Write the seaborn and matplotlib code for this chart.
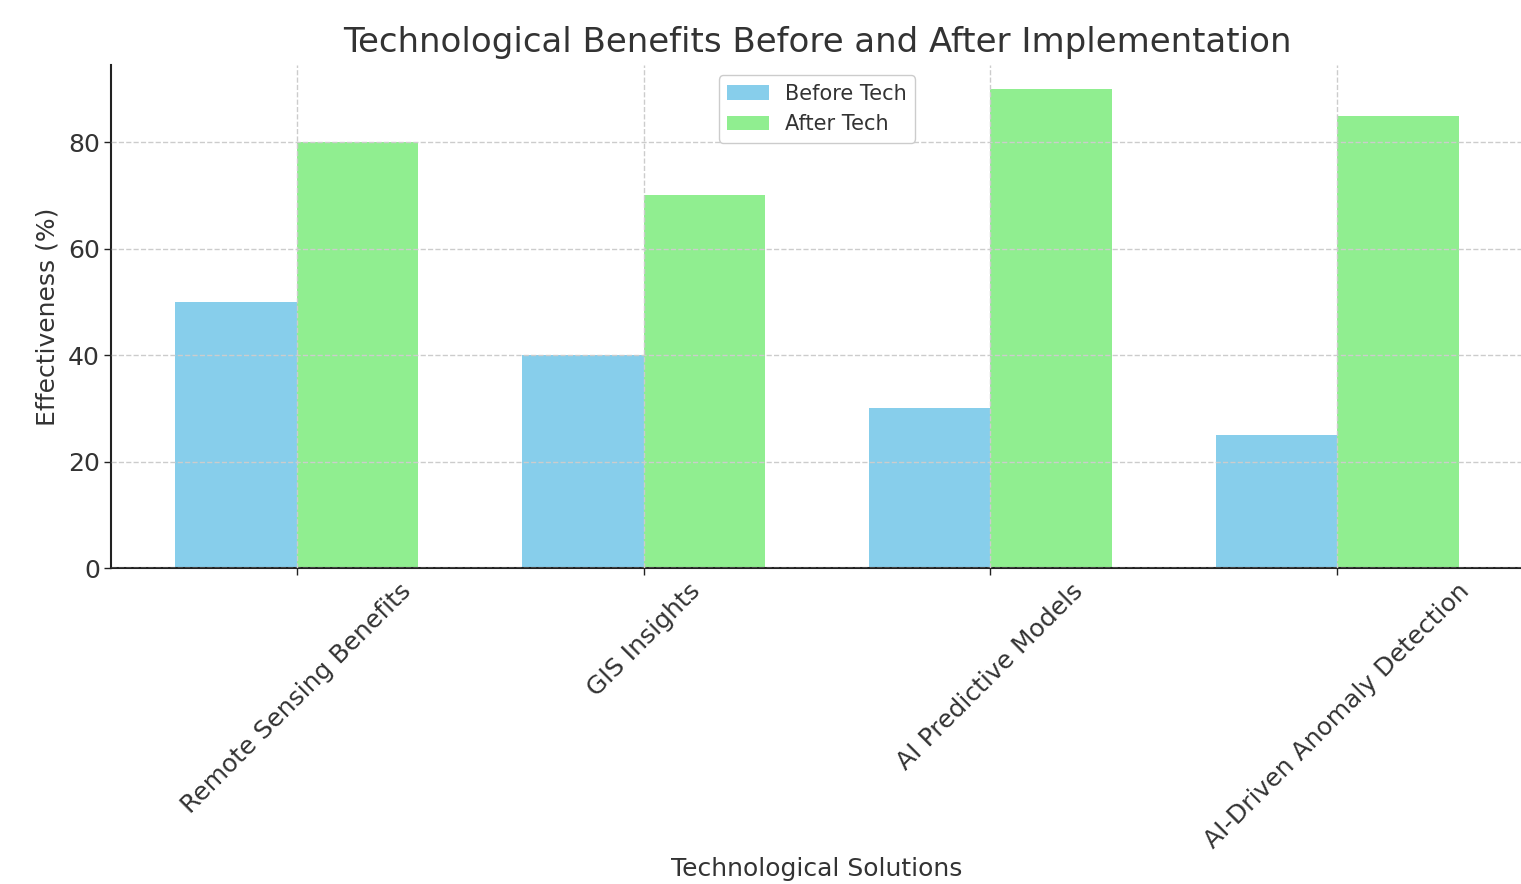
import matplotlib
matplotlib.use("Agg")
import matplotlib.pyplot as plt
import seaborn as sns
import pandas as pd

categories = ["Remote Sensing Benefits", "GIS Insights", "AI Predictive Models", "AI-Driven Anomaly Detection"]
before_tech = [50, 40, 30, 25]
after_tech = [80, 70, 90, 85]
series_names = ["Before Tech", "After Tech"]
colors = ["#87CEEB", "#90EE90"]

df = pd.DataFrame({
    "Solution": categories * 2,
    "Effectiveness": before_tech + after_tech,
    "Series": [series_names[0]] * len(categories) + [series_names[1]] * len(categories),
})

sns.set_style("white")
plt.rcParams['font.family'] = ['DejaVu Sans']
plt.rcParams['text.color'] = '#333333'
plt.rcParams['axes.labelcolor'] = '#333333'
plt.rcParams['xtick.color'] = '#333333'
plt.rcParams['ytick.color'] = '#333333'

fig = plt.figure(figsize=(15.21, 8.84), dpi=100)
ax = fig.add_axes([111/1521, 1 - 568/884, 1412/1521, 503/884])

sns.barplot(data=df, x="Solution", y="Effectiveness", hue="Series",
            palette=colors, width=0.7, gap=0, saturation=1, ax=ax,
            edgecolor="none", linewidth=0)

ax.set_xlim(-0.536, 3.536)
ax.set_ylim(0, 94.5)
ax.grid(True, axis='both', linestyle='--', color='#cccccc', linewidth=1)
ax.set_axisbelow(False)
for s in ["top", "right"]:
    ax.spines[s].set_visible(False)
for s in ["left", "bottom"]:
    ax.spines[s].set_color('#222222')
    ax.spines[s].set_linewidth(1.5)
ax.tick_params(axis='both', which='major', labelsize=18, length=5, width=1, direction='out',
               bottom=True, left=True, color='#222222', pad=3)
plt.setp(ax.get_xticklabels(), rotation=45, ha='center')

ax.set_title("Technological Benefits Before and After Implementation", fontsize=24.5, color='#333333', pad=9.5)
ax.set_xlabel("Technological Solutions", fontsize=18, labelpad=2.5)
ax.set_ylabel("Effectiveness (%)", fontsize=18, labelpad=6)

leg = ax.legend(loc="upper center", fontsize=15, frameon=True, fancybox=True, framealpha=1,
                edgecolor='#cccccc', handlelength=2.0)
leg.set_title(None)

fig.savefig("out.png", dpi=100)
